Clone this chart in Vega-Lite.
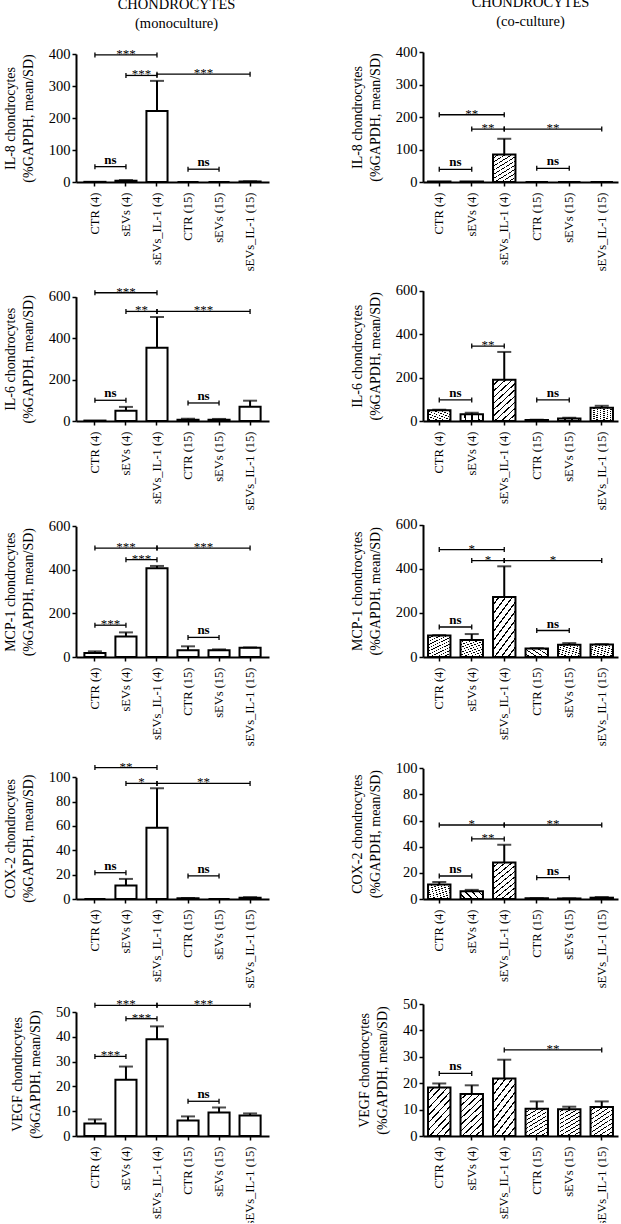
{
"$schema": "https://vega.github.io/schema/vega-lite/v6.json",
"padding": {"left": 3, "top": -5, "right": 2, "bottom": -2},
"params": [{"name": "G", "value": ["CTR (4)","sEVs (4)","sEVs_IL-1 (4)","CTR (15)","sEVs (15)","sEVs_IL-1 (15)"]}],
"config": {
 "font": "Liberation Serif",
 "view": {"stroke": null},
 "axis": {"grid": false, "labelColor": "black", "titleColor": "black", "domainColor": "black", "tickColor": "black", "labelFont": "Liberation Serif", "titleFont": "Liberation Serif"},
 "axisX": {"labelAngle": -90, "labelFontSize": 12.5, "domainWidth": 2, "tickWidth": 1.5, "tickSize": 4, "labelPadding": 6, "labelOverlap": false},
 "axisY": {"labelFontSize": 14.5, "labelOverlap": false, "domainWidth": 2, "tickWidth": 1.5, "tickSize": 4, "labelPadding": 2, "titleFontSize": 14, "titleFontWeight": "normal", "titleLineHeight": 18, "titlePadding": 13},
 "title": {"font": "Liberation Serif", "fontSize": 14.5, "fontWeight": "normal", "lineHeight": 18.5, "color": "black", "offset": 15}
},
"datasets": {
 "bars": [
  {"panel":"IL8_m","group":"CTR (4)","mean":0.5,"upper":0.5},
  {"panel":"IL8_m","group":"sEVs (4)","mean":4,"upper":6},
  {"panel":"IL8_m","group":"sEVs_IL-1 (4)","mean":222,"upper":316},
  {"panel":"IL8_m","group":"CTR (15)","mean":0,"upper":0},
  {"panel":"IL8_m","group":"sEVs (15)","mean":0,"upper":0},
  {"panel":"IL8_m","group":"sEVs_IL-1 (15)","mean":1.5,"upper":2},
  {"panel":"IL8_c","group":"CTR (4)","mean":1.5,"upper":1.5},
  {"panel":"IL8_c","group":"sEVs (4)","mean":1.5,"upper":1.5},
  {"panel":"IL8_c","group":"sEVs_IL-1 (4)","mean":85,"upper":133},
  {"panel":"IL8_c","group":"CTR (15)","mean":0,"upper":0},
  {"panel":"IL8_c","group":"sEVs (15)","mean":0,"upper":0},
  {"panel":"IL8_c","group":"sEVs_IL-1 (15)","mean":0,"upper":0},
  {"panel":"IL6_m","group":"CTR (4)","mean":2,"upper":2},
  {"panel":"IL6_m","group":"sEVs (4)","mean":50,"upper":68},
  {"panel":"IL6_m","group":"sEVs_IL-1 (4)","mean":354,"upper":502},
  {"panel":"IL6_m","group":"CTR (15)","mean":6,"upper":11},
  {"panel":"IL6_m","group":"sEVs (15)","mean":6,"upper":10},
  {"panel":"IL6_m","group":"sEVs_IL-1 (15)","mean":69,"upper":98},
  {"panel":"IL6_c","group":"CTR (4)","mean":49,"upper":52},
  {"panel":"IL6_c","group":"sEVs (4)","mean":31,"upper":38},
  {"panel":"IL6_c","group":"sEVs_IL-1 (4)","mean":190,"upper":318},
  {"panel":"IL6_c","group":"CTR (15)","mean":5,"upper":6},
  {"panel":"IL6_c","group":"sEVs (15)","mean":12,"upper":15},
  {"panel":"IL6_c","group":"sEVs_IL-1 (15)","mean":61,"upper":70},
  {"panel":"MCP1_m","group":"CTR (4)","mean":18,"upper":26},
  {"panel":"MCP1_m","group":"sEVs (4)","mean":94,"upper":113},
  {"panel":"MCP1_m","group":"sEVs_IL-1 (4)","mean":407,"upper":418},
  {"panel":"MCP1_m","group":"CTR (15)","mean":31,"upper":49},
  {"panel":"MCP1_m","group":"sEVs (15)","mean":31,"upper":35},
  {"panel":"MCP1_m","group":"sEVs_IL-1 (15)","mean":43,"upper":44},
  {"panel":"MCP1_c","group":"CTR (4)","mean":97,"upper":99},
  {"panel":"MCP1_c","group":"sEVs (4)","mean":77,"upper":104},
  {"panel":"MCP1_c","group":"sEVs_IL-1 (4)","mean":272,"upper":411},
  {"panel":"MCP1_c","group":"CTR (15)","mean":39,"upper":40},
  {"panel":"MCP1_c","group":"sEVs (15)","mean":56,"upper":63},
  {"panel":"MCP1_c","group":"sEVs_IL-1 (15)","mean":57,"upper":58},
  {"panel":"COX2_m","group":"CTR (4)","mean":0,"upper":0},
  {"panel":"COX2_m","group":"sEVs (4)","mean":11,"upper":16.5},
  {"panel":"COX2_m","group":"sEVs_IL-1 (4)","mean":58.6,"upper":91},
  {"panel":"COX2_m","group":"CTR (15)","mean":0.6,"upper":0.8},
  {"panel":"COX2_m","group":"sEVs (15)","mean":0,"upper":0},
  {"panel":"COX2_m","group":"sEVs_IL-1 (15)","mean":1,"upper":1.5},
  {"panel":"COX2_c","group":"CTR (4)","mean":11,"upper":13},
  {"panel":"COX2_c","group":"sEVs (4)","mean":5.9,"upper":7},
  {"panel":"COX2_c","group":"sEVs_IL-1 (4)","mean":28,"upper":41.5},
  {"panel":"COX2_c","group":"CTR (15)","mean":0.5,"upper":0.6},
  {"panel":"COX2_c","group":"sEVs (15)","mean":0.4,"upper":0.5},
  {"panel":"COX2_c","group":"sEVs_IL-1 (15)","mean":1,"upper":1.5},
  {"panel":"VEGF_m","group":"CTR (4)","mean":5,"upper":6.7},
  {"panel":"VEGF_m","group":"sEVs (4)","mean":22.7,"upper":28},
  {"panel":"VEGF_m","group":"sEVs_IL-1 (4)","mean":39,"upper":44.2},
  {"panel":"VEGF_m","group":"CTR (15)","mean":6.2,"upper":7.9},
  {"panel":"VEGF_m","group":"sEVs (15)","mean":9.5,"upper":11.5},
  {"panel":"VEGF_m","group":"sEVs_IL-1 (15)","mean":8.3,"upper":9.1},
  {"panel":"VEGF_c","group":"CTR (4)","mean":18.4,"upper":19.9},
  {"panel":"VEGF_c","group":"sEVs (4)","mean":15.9,"upper":19.2},
  {"panel":"VEGF_c","group":"sEVs_IL-1 (4)","mean":21.8,"upper":28.9},
  {"panel":"VEGF_c","group":"CTR (15)","mean":10.3,"upper":13.1},
  {"panel":"VEGF_c","group":"sEVs (15)","mean":10.1,"upper":11.1},
  {"panel":"VEGF_c","group":"sEVs_IL-1 (15)","mean":11,"upper":13.1}
 ],
 "sig": [
  {"panel":"IL8_m","from":"CTR (4)","to":"sEVs_IL-1 (4)","y":397,"label":"***"},
  {"panel":"IL8_m","from":"sEVs (4)","to":"sEVs_IL-1 (4)","y":333,"label":"***"},
  {"panel":"IL8_m","from":"sEVs_IL-1 (4)","to":"sEVs_IL-1 (15)","y":337,"label":"***"},
  {"panel":"IL8_m","from":"CTR (4)","to":"sEVs (4)","y":48,"label":"ns"},
  {"panel":"IL8_m","from":"CTR (15)","to":"sEVs (15)","y":40,"label":"ns"},
  {"panel":"IL8_c","from":"CTR (4)","to":"sEVs_IL-1 (4)","y":207,"label":"**"},
  {"panel":"IL8_c","from":"sEVs (4)","to":"sEVs_IL-1 (4)","y":163,"label":"**"},
  {"panel":"IL8_c","from":"sEVs_IL-1 (4)","to":"sEVs_IL-1 (15)","y":163,"label":"**"},
  {"panel":"IL8_c","from":"CTR (4)","to":"sEVs (4)","y":39,"label":"ns"},
  {"panel":"IL8_c","from":"CTR (15)","to":"sEVs (15)","y":42,"label":"ns"},
  {"panel":"IL6_m","from":"CTR (4)","to":"sEVs_IL-1 (4)","y":619,"label":"***"},
  {"panel":"IL6_m","from":"sEVs (4)","to":"sEVs_IL-1 (4)","y":529,"label":"**"},
  {"panel":"IL6_m","from":"sEVs_IL-1 (4)","to":"sEVs_IL-1 (15)","y":529,"label":"***"},
  {"panel":"IL6_m","from":"CTR (4)","to":"sEVs (4)","y":100,"label":"ns"},
  {"panel":"IL6_m","from":"CTR (15)","to":"sEVs (15)","y":87,"label":"ns"},
  {"panel":"IL6_c","from":"sEVs (4)","to":"sEVs_IL-1 (4)","y":345,"label":"**"},
  {"panel":"IL6_c","from":"CTR (4)","to":"sEVs (4)","y":97,"label":"ns"},
  {"panel":"IL6_c","from":"CTR (15)","to":"sEVs (15)","y":97,"label":"ns"},
  {"panel":"MCP1_m","from":"CTR (4)","to":"sEVs_IL-1 (4)","y":500,"label":"***"},
  {"panel":"MCP1_m","from":"sEVs (4)","to":"sEVs_IL-1 (4)","y":447,"label":"***"},
  {"panel":"MCP1_m","from":"sEVs_IL-1 (4)","to":"sEVs_IL-1 (15)","y":500,"label":"***"},
  {"panel":"MCP1_m","from":"CTR (4)","to":"sEVs (4)","y":146,"label":"***"},
  {"panel":"MCP1_m","from":"CTR (15)","to":"sEVs (15)","y":90,"label":"ns"},
  {"panel":"MCP1_c","from":"CTR (4)","to":"sEVs_IL-1 (4)","y":487,"label":"*"},
  {"panel":"MCP1_c","from":"sEVs (4)","to":"sEVs_IL-1 (4)","y":437,"label":"*"},
  {"panel":"MCP1_c","from":"sEVs_IL-1 (4)","to":"sEVs_IL-1 (15)","y":437,"label":"*"},
  {"panel":"MCP1_c","from":"CTR (4)","to":"sEVs (4)","y":136,"label":"ns"},
  {"panel":"MCP1_c","from":"CTR (15)","to":"sEVs (15)","y":120,"label":"ns"},
  {"panel":"COX2_m","from":"CTR (4)","to":"sEVs_IL-1 (4)","y":108,"label":"**"},
  {"panel":"COX2_m","from":"sEVs (4)","to":"sEVs_IL-1 (4)","y":95,"label":"*"},
  {"panel":"COX2_m","from":"sEVs_IL-1 (4)","to":"sEVs_IL-1 (15)","y":95,"label":"**"},
  {"panel":"COX2_m","from":"CTR (4)","to":"sEVs (4)","y":21.6,"label":"ns"},
  {"panel":"COX2_m","from":"CTR (15)","to":"sEVs (15)","y":19,"label":"ns"},
  {"panel":"COX2_c","from":"CTR (4)","to":"sEVs_IL-1 (4)","y":56.6,"label":"*"},
  {"panel":"COX2_c","from":"sEVs (4)","to":"sEVs_IL-1 (4)","y":46,"label":"**"},
  {"panel":"COX2_c","from":"sEVs_IL-1 (4)","to":"sEVs_IL-1 (15)","y":56.6,"label":"**"},
  {"panel":"COX2_c","from":"CTR (4)","to":"sEVs (4)","y":17.6,"label":"ns"},
  {"panel":"COX2_c","from":"CTR (15)","to":"sEVs (15)","y":16.3,"label":"ns"},
  {"panel":"VEGF_m","from":"CTR (4)","to":"sEVs_IL-1 (4)","y":52.7,"label":"***"},
  {"panel":"VEGF_m","from":"sEVs (4)","to":"sEVs_IL-1 (4)","y":47.3,"label":"***"},
  {"panel":"VEGF_m","from":"sEVs_IL-1 (4)","to":"sEVs_IL-1 (15)","y":52.7,"label":"***"},
  {"panel":"VEGF_m","from":"CTR (4)","to":"sEVs (4)","y":32.1,"label":"***"},
  {"panel":"VEGF_m","from":"CTR (15)","to":"sEVs (15)","y":14,"label":"ns"},
  {"panel":"VEGF_c","from":"CTR (4)","to":"sEVs (4)","y":23.7,"label":"ns"},
  {"panel":"VEGF_c","from":"sEVs_IL-1 (4)","to":"sEVs_IL-1 (15)","y":32.6,"label":"**"}
 ]
},
"columns": 2,
"spacing": {"row": 106, "column": 154},
"bounds": "flush",
"concat": [
{"width":193,"height":130,"title":{"text":["CHONDROCYTES","(monoculture)"],"frame":"group","dx":4},"layer":[
 {"data":{"name":"bars"},"transform":[{"filter":"datum.panel=='IL8_m'"}],"mark":{"type":"bar","width":{"band":0.68},"fill":"white","stroke":"black","strokeWidth":2},"encoding":{"x":{"field":"group","type":"nominal","scale":{"domain":["CTR (4)","sEVs (4)","sEVs_IL-1 (4)","CTR (15)","sEVs (15)","sEVs_IL-1 (15)"],"paddingInner":0,"paddingOuter":0.11},"axis":{"title":null}},"y":{"field":"mean","type":"quantitative","scale":{"domain":[0,400],"range":[130,2],"nice":false},"axis":{"title":["IL-8 chondrocytes","(%GAPDH, mean/SD)"],"values":[0,100,200,300,400],"tickCount":12,"labelOverlap":false}}}},
 {"data":{"name":"bars"},"transform":[{"filter":"datum.panel=='IL8_m' && datum.upper > datum.mean"}],"mark":{"type":"rule","stroke":"black","strokeWidth":2},"encoding":{"x":{"field":"group","type":"nominal"},"y":{"field":"mean","type":"quantitative"},"y2":{"field":"upper"}}},
 {"data":{"name":"bars"},"transform":[{"filter":"datum.panel=='IL8_m' && datum.upper > datum.mean"}],"mark":{"type":"tick","color":"black","thickness":2,"size":14},"encoding":{"x":{"field":"group","type":"nominal"},"y":{"field":"upper","type":"quantitative"}}},
 {"data":{"name":"sig"},"transform":[{"filter":"datum.panel=='IL8_m'"}],"mark":{"type":"rule","stroke":"black","strokeWidth":1.3},"encoding":{"x":{"field":"from","type":"nominal"},"x2":{"field":"to"},"y":{"field":"y","type":"quantitative"}}},
 {"data":{"name":"sig"},"transform":[{"filter":"datum.panel=='IL8_m'"},{"fold":["from","to"],"as":["end","grp"]}],"mark":{"type":"point","shape":"M0,-1L0,1","size":25,"stroke":"black","strokeWidth":1.3,"filled":false,"opacity":1},"encoding":{"x":{"field":"grp","type":"nominal"},"y":{"field":"y","type":"quantitative"}}},
 {"data":{"name":"sig"},"transform":[{"filter":"datum.panel=='IL8_m' && datum.label=='ns'"}],"mark":{"type":"text","baseline":"alphabetic","dy":-3,"fontSize":13,"fontWeight":"bold","color":"black"},"encoding":{"x":{"field":"from","type":"nominal","bandPosition":1},"y":{"field":"y","type":"quantitative"},"text":{"field":"label"}}},
 {"data":{"name":"sig"},"transform":[{"filter":"datum.panel=='IL8_m' && datum.label!='ns' && indexof(G,datum.to)-indexof(G,datum.from)==1"}],"mark":{"type":"text","baseline":"alphabetic","dy":3,"fontSize":13,"color":"black"},"encoding":{"x":{"field":"from","type":"nominal","bandPosition":1},"y":{"field":"y","type":"quantitative"},"text":{"field":"label"}}},
 {"data":{"name":"sig"},"transform":[{"filter":"datum.panel=='IL8_m' && datum.label!='ns' && indexof(G,datum.to)-indexof(G,datum.from)==2"}],"mark":{"type":"text","baseline":"alphabetic","dy":3,"fontSize":13,"color":"black"},"encoding":{"x":{"field":"from","type":"nominal","bandPosition":1.5},"y":{"field":"y","type":"quantitative"},"text":{"field":"label"}}},
 {"data":{"name":"sig"},"transform":[{"filter":"datum.panel=='IL8_m' && datum.label!='ns' && indexof(G,datum.to)-indexof(G,datum.from)==3"}],"mark":{"type":"text","baseline":"alphabetic","dy":3,"fontSize":13,"color":"black"},"encoding":{"x":{"field":"from","type":"nominal","bandPosition":2},"y":{"field":"y","type":"quantitative"},"text":{"field":"label"}}}
]},
{"width":195,"height":130,"title":{"text":["CHONDROCYTES","(co-culture)"],"frame":"group","dx":10},"layer":[
 {"data":{"name":"bars"},"transform":[{"filter":"datum.panel=='IL8_c'"}],"mark":{"type":"bar","width":{"band":0.69},"fill":{"gradient":"linear","x1":0,"y1":0,"x2":0.6,"y2":1.2,"stops":[{"offset":0,"color":"white"},{"offset":0.078,"color":"white"},{"offset":0.078,"color":"black"},{"offset":0.1,"color":"black"},{"offset":0.1,"color":"white"},{"offset":0.178,"color":"white"},{"offset":0.178,"color":"black"},{"offset":0.2,"color":"black"},{"offset":0.2,"color":"white"},{"offset":0.278,"color":"white"},{"offset":0.278,"color":"black"},{"offset":0.3,"color":"black"},{"offset":0.3,"color":"white"},{"offset":0.378,"color":"white"},{"offset":0.378,"color":"black"},{"offset":0.4,"color":"black"},{"offset":0.4,"color":"white"},{"offset":0.478,"color":"white"},{"offset":0.478,"color":"black"},{"offset":0.5,"color":"black"},{"offset":0.5,"color":"white"},{"offset":0.578,"color":"white"},{"offset":0.578,"color":"black"},{"offset":0.6,"color":"black"},{"offset":0.6,"color":"white"},{"offset":0.678,"color":"white"},{"offset":0.678,"color":"black"},{"offset":0.7,"color":"black"},{"offset":0.7,"color":"white"},{"offset":0.778,"color":"white"},{"offset":0.778,"color":"black"},{"offset":0.8,"color":"black"},{"offset":0.8,"color":"white"},{"offset":0.878,"color":"white"},{"offset":0.878,"color":"black"},{"offset":0.9,"color":"black"},{"offset":0.9,"color":"white"},{"offset":0.978,"color":"white"},{"offset":0.978,"color":"black"},{"offset":1,"color":"black"}]},"stroke":"black","strokeWidth":2},"encoding":{"x":{"field":"group","type":"nominal","scale":{"domain":["CTR (4)","sEVs (4)","sEVs_IL-1 (4)","CTR (15)","sEVs (15)","sEVs_IL-1 (15)"],"paddingInner":0,"paddingOuter":0},"axis":{"title":null}},"y":{"field":"mean","type":"quantitative","scale":{"domain":[0,400],"range":[130,0],"nice":false},"axis":{"title":["IL-8 chondrocytes","(%GAPDH, mean/SD)"],"values":[0,100,200,300,400],"tickCount":12,"labelOverlap":false}}}},
 {"data":{"name":"bars"},"transform":[{"filter":"datum.panel=='IL8_c' && datum.upper > datum.mean"}],"mark":{"type":"rule","stroke":"black","strokeWidth":2},"encoding":{"x":{"field":"group","type":"nominal"},"y":{"field":"mean","type":"quantitative"},"y2":{"field":"upper"}}},
 {"data":{"name":"bars"},"transform":[{"filter":"datum.panel=='IL8_c' && datum.upper > datum.mean"}],"mark":{"type":"tick","color":"black","thickness":2,"size":14},"encoding":{"x":{"field":"group","type":"nominal"},"y":{"field":"upper","type":"quantitative"}}},
 {"data":{"name":"sig"},"transform":[{"filter":"datum.panel=='IL8_c'"}],"mark":{"type":"rule","stroke":"black","strokeWidth":1.3},"encoding":{"x":{"field":"from","type":"nominal"},"x2":{"field":"to"},"y":{"field":"y","type":"quantitative"}}},
 {"data":{"name":"sig"},"transform":[{"filter":"datum.panel=='IL8_c'"},{"fold":["from","to"],"as":["end","grp"]}],"mark":{"type":"point","shape":"M0,-1L0,1","size":25,"stroke":"black","strokeWidth":1.3,"filled":false,"opacity":1},"encoding":{"x":{"field":"grp","type":"nominal"},"y":{"field":"y","type":"quantitative"}}},
 {"data":{"name":"sig"},"transform":[{"filter":"datum.panel=='IL8_c' && datum.label=='ns'"}],"mark":{"type":"text","baseline":"alphabetic","dy":-3,"fontSize":13,"fontWeight":"bold","color":"black"},"encoding":{"x":{"field":"from","type":"nominal","bandPosition":1},"y":{"field":"y","type":"quantitative"},"text":{"field":"label"}}},
 {"data":{"name":"sig"},"transform":[{"filter":"datum.panel=='IL8_c' && datum.label!='ns' && indexof(G,datum.to)-indexof(G,datum.from)==1"}],"mark":{"type":"text","baseline":"alphabetic","dy":3,"fontSize":13,"color":"black"},"encoding":{"x":{"field":"from","type":"nominal","bandPosition":1},"y":{"field":"y","type":"quantitative"},"text":{"field":"label"}}},
 {"data":{"name":"sig"},"transform":[{"filter":"datum.panel=='IL8_c' && datum.label!='ns' && indexof(G,datum.to)-indexof(G,datum.from)==2"}],"mark":{"type":"text","baseline":"alphabetic","dy":3,"fontSize":13,"color":"black"},"encoding":{"x":{"field":"from","type":"nominal","bandPosition":1.5},"y":{"field":"y","type":"quantitative"},"text":{"field":"label"}}},
 {"data":{"name":"sig"},"transform":[{"filter":"datum.panel=='IL8_c' && datum.label!='ns' && indexof(G,datum.to)-indexof(G,datum.from)==3"}],"mark":{"type":"text","baseline":"alphabetic","dy":3,"fontSize":13,"color":"black"},"encoding":{"x":{"field":"from","type":"nominal","bandPosition":2},"y":{"field":"y","type":"quantitative"},"text":{"field":"label"}}}
]},
{"width":193,"height":133,"layer":[
 {"data":{"name":"bars"},"transform":[{"filter":"datum.panel=='IL6_m'"}],"mark":{"type":"bar","width":{"band":0.68},"fill":"white","stroke":"black","strokeWidth":2},"encoding":{"x":{"field":"group","type":"nominal","scale":{"domain":["CTR (4)","sEVs (4)","sEVs_IL-1 (4)","CTR (15)","sEVs (15)","sEVs_IL-1 (15)"],"paddingInner":0,"paddingOuter":0.11},"axis":{"title":null}},"y":{"field":"mean","type":"quantitative","scale":{"domain":[0,600],"range":[133,8.7],"nice":false},"axis":{"title":["IL-6 chondrocytes","(%GAPDH, mean/SD)"],"values":[0,200,400,600],"tickCount":12,"labelOverlap":false}}}},
 {"data":{"name":"bars"},"transform":[{"filter":"datum.panel=='IL6_m' && datum.upper > datum.mean"}],"mark":{"type":"rule","stroke":"black","strokeWidth":2},"encoding":{"x":{"field":"group","type":"nominal"},"y":{"field":"mean","type":"quantitative"},"y2":{"field":"upper"}}},
 {"data":{"name":"bars"},"transform":[{"filter":"datum.panel=='IL6_m' && datum.upper > datum.mean"}],"mark":{"type":"tick","color":"black","thickness":2,"size":14},"encoding":{"x":{"field":"group","type":"nominal"},"y":{"field":"upper","type":"quantitative"}}},
 {"data":{"name":"sig"},"transform":[{"filter":"datum.panel=='IL6_m'"}],"mark":{"type":"rule","stroke":"black","strokeWidth":1.3},"encoding":{"x":{"field":"from","type":"nominal"},"x2":{"field":"to"},"y":{"field":"y","type":"quantitative"}}},
 {"data":{"name":"sig"},"transform":[{"filter":"datum.panel=='IL6_m'"},{"fold":["from","to"],"as":["end","grp"]}],"mark":{"type":"point","shape":"M0,-1L0,1","size":25,"stroke":"black","strokeWidth":1.3,"filled":false,"opacity":1},"encoding":{"x":{"field":"grp","type":"nominal"},"y":{"field":"y","type":"quantitative"}}},
 {"data":{"name":"sig"},"transform":[{"filter":"datum.panel=='IL6_m' && datum.label=='ns'"}],"mark":{"type":"text","baseline":"alphabetic","dy":-3,"fontSize":13,"fontWeight":"bold","color":"black"},"encoding":{"x":{"field":"from","type":"nominal","bandPosition":1},"y":{"field":"y","type":"quantitative"},"text":{"field":"label"}}},
 {"data":{"name":"sig"},"transform":[{"filter":"datum.panel=='IL6_m' && datum.label!='ns' && indexof(G,datum.to)-indexof(G,datum.from)==1"}],"mark":{"type":"text","baseline":"alphabetic","dy":3,"fontSize":13,"color":"black"},"encoding":{"x":{"field":"from","type":"nominal","bandPosition":1},"y":{"field":"y","type":"quantitative"},"text":{"field":"label"}}},
 {"data":{"name":"sig"},"transform":[{"filter":"datum.panel=='IL6_m' && datum.label!='ns' && indexof(G,datum.to)-indexof(G,datum.from)==2"}],"mark":{"type":"text","baseline":"alphabetic","dy":3,"fontSize":13,"color":"black"},"encoding":{"x":{"field":"from","type":"nominal","bandPosition":1.5},"y":{"field":"y","type":"quantitative"},"text":{"field":"label"}}},
 {"data":{"name":"sig"},"transform":[{"filter":"datum.panel=='IL6_m' && datum.label!='ns' && indexof(G,datum.to)-indexof(G,datum.from)==3"}],"mark":{"type":"text","baseline":"alphabetic","dy":3,"fontSize":13,"color":"black"},"encoding":{"x":{"field":"from","type":"nominal","bandPosition":2},"y":{"field":"y","type":"quantitative"},"text":{"field":"label"}}}
]},
{"width":195,"height":133,"layer":[
 {"data":{"name":"bars"},"transform":[{"filter":"datum.panel=='IL6_c'"}],"mark":{"type":"bar","width":{"band":0.69},"fill":{"gradient":"linear","x1":0,"y1":0,"x2":0.6,"y2":1.2,"stops":[{"offset":0,"color":"white"},{"offset":0.078,"color":"white"},{"offset":0.078,"color":"black"},{"offset":0.1,"color":"black"},{"offset":0.1,"color":"white"},{"offset":0.178,"color":"white"},{"offset":0.178,"color":"black"},{"offset":0.2,"color":"black"},{"offset":0.2,"color":"white"},{"offset":0.278,"color":"white"},{"offset":0.278,"color":"black"},{"offset":0.3,"color":"black"},{"offset":0.3,"color":"white"},{"offset":0.378,"color":"white"},{"offset":0.378,"color":"black"},{"offset":0.4,"color":"black"},{"offset":0.4,"color":"white"},{"offset":0.478,"color":"white"},{"offset":0.478,"color":"black"},{"offset":0.5,"color":"black"},{"offset":0.5,"color":"white"},{"offset":0.578,"color":"white"},{"offset":0.578,"color":"black"},{"offset":0.6,"color":"black"},{"offset":0.6,"color":"white"},{"offset":0.678,"color":"white"},{"offset":0.678,"color":"black"},{"offset":0.7,"color":"black"},{"offset":0.7,"color":"white"},{"offset":0.778,"color":"white"},{"offset":0.778,"color":"black"},{"offset":0.8,"color":"black"},{"offset":0.8,"color":"white"},{"offset":0.878,"color":"white"},{"offset":0.878,"color":"black"},{"offset":0.9,"color":"black"},{"offset":0.9,"color":"white"},{"offset":0.978,"color":"white"},{"offset":0.978,"color":"black"},{"offset":1,"color":"black"}]},"stroke":"black","strokeWidth":2},"encoding":{"x":{"field":"group","type":"nominal","scale":{"domain":["CTR (4)","sEVs (4)","sEVs_IL-1 (4)","CTR (15)","sEVs (15)","sEVs_IL-1 (15)"],"paddingInner":0,"paddingOuter":0},"axis":{"title":null}},"y":{"field":"mean","type":"quantitative","scale":{"domain":[0,600],"range":[133,2.7],"nice":false},"axis":{"title":["IL-6 chondrocytes","(%GAPDH, mean/SD)"],"values":[0,200,400,600],"tickCount":12,"labelOverlap":false}}}},
 {"data":{"name":"bars"},"transform":[{"filter":"datum.panel=='IL6_c' && datum.upper > datum.mean"}],"mark":{"type":"rule","stroke":"black","strokeWidth":2},"encoding":{"x":{"field":"group","type":"nominal"},"y":{"field":"mean","type":"quantitative"},"y2":{"field":"upper"}}},
 {"data":{"name":"bars"},"transform":[{"filter":"datum.panel=='IL6_c' && datum.upper > datum.mean"}],"mark":{"type":"tick","color":"black","thickness":2,"size":14},"encoding":{"x":{"field":"group","type":"nominal"},"y":{"field":"upper","type":"quantitative"}}},
 {"data":{"name":"sig"},"transform":[{"filter":"datum.panel=='IL6_c'"}],"mark":{"type":"rule","stroke":"black","strokeWidth":1.3},"encoding":{"x":{"field":"from","type":"nominal"},"x2":{"field":"to"},"y":{"field":"y","type":"quantitative"}}},
 {"data":{"name":"sig"},"transform":[{"filter":"datum.panel=='IL6_c'"},{"fold":["from","to"],"as":["end","grp"]}],"mark":{"type":"point","shape":"M0,-1L0,1","size":25,"stroke":"black","strokeWidth":1.3,"filled":false,"opacity":1},"encoding":{"x":{"field":"grp","type":"nominal"},"y":{"field":"y","type":"quantitative"}}},
 {"data":{"name":"sig"},"transform":[{"filter":"datum.panel=='IL6_c' && datum.label=='ns'"}],"mark":{"type":"text","baseline":"alphabetic","dy":-3,"fontSize":13,"fontWeight":"bold","color":"black"},"encoding":{"x":{"field":"from","type":"nominal","bandPosition":1},"y":{"field":"y","type":"quantitative"},"text":{"field":"label"}}},
 {"data":{"name":"sig"},"transform":[{"filter":"datum.panel=='IL6_c' && datum.label!='ns' && indexof(G,datum.to)-indexof(G,datum.from)==1"}],"mark":{"type":"text","baseline":"alphabetic","dy":3,"fontSize":13,"color":"black"},"encoding":{"x":{"field":"from","type":"nominal","bandPosition":1},"y":{"field":"y","type":"quantitative"},"text":{"field":"label"}}},
 {"data":{"name":"sig"},"transform":[{"filter":"datum.panel=='IL6_c' && datum.label!='ns' && indexof(G,datum.to)-indexof(G,datum.from)==2"}],"mark":{"type":"text","baseline":"alphabetic","dy":3,"fontSize":13,"color":"black"},"encoding":{"x":{"field":"from","type":"nominal","bandPosition":1.5},"y":{"field":"y","type":"quantitative"},"text":{"field":"label"}}},
 {"data":{"name":"sig"},"transform":[{"filter":"datum.panel=='IL6_c' && datum.label!='ns' && indexof(G,datum.to)-indexof(G,datum.from)==3"}],"mark":{"type":"text","baseline":"alphabetic","dy":3,"fontSize":13,"color":"black"},"encoding":{"x":{"field":"from","type":"nominal","bandPosition":2},"y":{"field":"y","type":"quantitative"},"text":{"field":"label"}}}
]},
{"width":193,"height":130,"layer":[
 {"data":{"name":"bars"},"transform":[{"filter":"datum.panel=='MCP1_m'"}],"mark":{"type":"bar","width":{"band":0.68},"fill":"white","stroke":"black","strokeWidth":2},"encoding":{"x":{"field":"group","type":"nominal","scale":{"domain":["CTR (4)","sEVs (4)","sEVs_IL-1 (4)","CTR (15)","sEVs (15)","sEVs_IL-1 (15)"],"paddingInner":0,"paddingOuter":0.11},"axis":{"title":null}},"y":{"field":"mean","type":"quantitative","scale":{"domain":[0,600],"range":[130,-0.7],"nice":false},"axis":{"title":["MCP-1 chondrocytes","(%GAPDH, mean/SD)"],"values":[0,200,400,600],"tickCount":12,"labelOverlap":false}}}},
 {"data":{"name":"bars"},"transform":[{"filter":"datum.panel=='MCP1_m' && datum.upper > datum.mean"}],"mark":{"type":"rule","stroke":"black","strokeWidth":2},"encoding":{"x":{"field":"group","type":"nominal"},"y":{"field":"mean","type":"quantitative"},"y2":{"field":"upper"}}},
 {"data":{"name":"bars"},"transform":[{"filter":"datum.panel=='MCP1_m' && datum.upper > datum.mean"}],"mark":{"type":"tick","color":"black","thickness":2,"size":14},"encoding":{"x":{"field":"group","type":"nominal"},"y":{"field":"upper","type":"quantitative"}}},
 {"data":{"name":"sig"},"transform":[{"filter":"datum.panel=='MCP1_m'"}],"mark":{"type":"rule","stroke":"black","strokeWidth":1.3},"encoding":{"x":{"field":"from","type":"nominal"},"x2":{"field":"to"},"y":{"field":"y","type":"quantitative"}}},
 {"data":{"name":"sig"},"transform":[{"filter":"datum.panel=='MCP1_m'"},{"fold":["from","to"],"as":["end","grp"]}],"mark":{"type":"point","shape":"M0,-1L0,1","size":25,"stroke":"black","strokeWidth":1.3,"filled":false,"opacity":1},"encoding":{"x":{"field":"grp","type":"nominal"},"y":{"field":"y","type":"quantitative"}}},
 {"data":{"name":"sig"},"transform":[{"filter":"datum.panel=='MCP1_m' && datum.label=='ns'"}],"mark":{"type":"text","baseline":"alphabetic","dy":-3,"fontSize":13,"fontWeight":"bold","color":"black"},"encoding":{"x":{"field":"from","type":"nominal","bandPosition":1},"y":{"field":"y","type":"quantitative"},"text":{"field":"label"}}},
 {"data":{"name":"sig"},"transform":[{"filter":"datum.panel=='MCP1_m' && datum.label!='ns' && indexof(G,datum.to)-indexof(G,datum.from)==1"}],"mark":{"type":"text","baseline":"alphabetic","dy":3,"fontSize":13,"color":"black"},"encoding":{"x":{"field":"from","type":"nominal","bandPosition":1},"y":{"field":"y","type":"quantitative"},"text":{"field":"label"}}},
 {"data":{"name":"sig"},"transform":[{"filter":"datum.panel=='MCP1_m' && datum.label!='ns' && indexof(G,datum.to)-indexof(G,datum.from)==2"}],"mark":{"type":"text","baseline":"alphabetic","dy":3,"fontSize":13,"color":"black"},"encoding":{"x":{"field":"from","type":"nominal","bandPosition":1.5},"y":{"field":"y","type":"quantitative"},"text":{"field":"label"}}},
 {"data":{"name":"sig"},"transform":[{"filter":"datum.panel=='MCP1_m' && datum.label!='ns' && indexof(G,datum.to)-indexof(G,datum.from)==3"}],"mark":{"type":"text","baseline":"alphabetic","dy":3,"fontSize":13,"color":"black"},"encoding":{"x":{"field":"from","type":"nominal","bandPosition":2},"y":{"field":"y","type":"quantitative"},"text":{"field":"label"}}}
]},
{"width":195,"height":130,"layer":[
 {"data":{"name":"bars"},"transform":[{"filter":"datum.panel=='MCP1_c'"}],"mark":{"type":"bar","width":{"band":0.69},"fill":{"gradient":"linear","x1":0,"y1":0,"x2":0.6,"y2":1.2,"stops":[{"offset":0,"color":"white"},{"offset":0.078,"color":"white"},{"offset":0.078,"color":"black"},{"offset":0.1,"color":"black"},{"offset":0.1,"color":"white"},{"offset":0.178,"color":"white"},{"offset":0.178,"color":"black"},{"offset":0.2,"color":"black"},{"offset":0.2,"color":"white"},{"offset":0.278,"color":"white"},{"offset":0.278,"color":"black"},{"offset":0.3,"color":"black"},{"offset":0.3,"color":"white"},{"offset":0.378,"color":"white"},{"offset":0.378,"color":"black"},{"offset":0.4,"color":"black"},{"offset":0.4,"color":"white"},{"offset":0.478,"color":"white"},{"offset":0.478,"color":"black"},{"offset":0.5,"color":"black"},{"offset":0.5,"color":"white"},{"offset":0.578,"color":"white"},{"offset":0.578,"color":"black"},{"offset":0.6,"color":"black"},{"offset":0.6,"color":"white"},{"offset":0.678,"color":"white"},{"offset":0.678,"color":"black"},{"offset":0.7,"color":"black"},{"offset":0.7,"color":"white"},{"offset":0.778,"color":"white"},{"offset":0.778,"color":"black"},{"offset":0.8,"color":"black"},{"offset":0.8,"color":"white"},{"offset":0.878,"color":"white"},{"offset":0.878,"color":"black"},{"offset":0.9,"color":"black"},{"offset":0.9,"color":"white"},{"offset":0.978,"color":"white"},{"offset":0.978,"color":"black"},{"offset":1,"color":"black"}]},"stroke":"black","strokeWidth":2},"encoding":{"x":{"field":"group","type":"nominal","scale":{"domain":["CTR (4)","sEVs (4)","sEVs_IL-1 (4)","CTR (15)","sEVs (15)","sEVs_IL-1 (15)"],"paddingInner":0,"paddingOuter":0},"axis":{"title":null}},"y":{"field":"mean","type":"quantitative","scale":{"domain":[0,600],"range":[130,-2.4],"nice":false},"axis":{"title":["MCP-1 chondrocytes","(%GAPDH, mean/SD)"],"values":[0,200,400,600],"tickCount":12,"labelOverlap":false}}}},
 {"data":{"name":"bars"},"transform":[{"filter":"datum.panel=='MCP1_c' && datum.upper > datum.mean"}],"mark":{"type":"rule","stroke":"black","strokeWidth":2},"encoding":{"x":{"field":"group","type":"nominal"},"y":{"field":"mean","type":"quantitative"},"y2":{"field":"upper"}}},
 {"data":{"name":"bars"},"transform":[{"filter":"datum.panel=='MCP1_c' && datum.upper > datum.mean"}],"mark":{"type":"tick","color":"black","thickness":2,"size":14},"encoding":{"x":{"field":"group","type":"nominal"},"y":{"field":"upper","type":"quantitative"}}},
 {"data":{"name":"sig"},"transform":[{"filter":"datum.panel=='MCP1_c'"}],"mark":{"type":"rule","stroke":"black","strokeWidth":1.3},"encoding":{"x":{"field":"from","type":"nominal"},"x2":{"field":"to"},"y":{"field":"y","type":"quantitative"}}},
 {"data":{"name":"sig"},"transform":[{"filter":"datum.panel=='MCP1_c'"},{"fold":["from","to"],"as":["end","grp"]}],"mark":{"type":"point","shape":"M0,-1L0,1","size":25,"stroke":"black","strokeWidth":1.3,"filled":false,"opacity":1},"encoding":{"x":{"field":"grp","type":"nominal"},"y":{"field":"y","type":"quantitative"}}},
 {"data":{"name":"sig"},"transform":[{"filter":"datum.panel=='MCP1_c' && datum.label=='ns'"}],"mark":{"type":"text","baseline":"alphabetic","dy":-3,"fontSize":13,"fontWeight":"bold","color":"black"},"encoding":{"x":{"field":"from","type":"nominal","bandPosition":1},"y":{"field":"y","type":"quantitative"},"text":{"field":"label"}}},
 {"data":{"name":"sig"},"transform":[{"filter":"datum.panel=='MCP1_c' && datum.label!='ns' && indexof(G,datum.to)-indexof(G,datum.from)==1"}],"mark":{"type":"text","baseline":"alphabetic","dy":3,"fontSize":13,"color":"black"},"encoding":{"x":{"field":"from","type":"nominal","bandPosition":1},"y":{"field":"y","type":"quantitative"},"text":{"field":"label"}}},
 {"data":{"name":"sig"},"transform":[{"filter":"datum.panel=='MCP1_c' && datum.label!='ns' && indexof(G,datum.to)-indexof(G,datum.from)==2"}],"mark":{"type":"text","baseline":"alphabetic","dy":3,"fontSize":13,"color":"black"},"encoding":{"x":{"field":"from","type":"nominal","bandPosition":1.5},"y":{"field":"y","type":"quantitative"},"text":{"field":"label"}}},
 {"data":{"name":"sig"},"transform":[{"filter":"datum.panel=='MCP1_c' && datum.label!='ns' && indexof(G,datum.to)-indexof(G,datum.from)==3"}],"mark":{"type":"text","baseline":"alphabetic","dy":3,"fontSize":13,"color":"black"},"encoding":{"x":{"field":"from","type":"nominal","bandPosition":2},"y":{"field":"y","type":"quantitative"},"text":{"field":"label"}}}
]},
{"width":193,"height":136,"layer":[
 {"data":{"name":"bars"},"transform":[{"filter":"datum.panel=='COX2_m'"}],"mark":{"type":"bar","width":{"band":0.68},"fill":"white","stroke":"black","strokeWidth":2},"encoding":{"x":{"field":"group","type":"nominal","scale":{"domain":["CTR (4)","sEVs (4)","sEVs_IL-1 (4)","CTR (15)","sEVs (15)","sEVs_IL-1 (15)"],"paddingInner":0,"paddingOuter":0.11},"axis":{"title":null}},"y":{"field":"mean","type":"quantitative","scale":{"domain":[0,100],"range":[136,14.3],"nice":false},"axis":{"title":["COX-2 chondrocytes","(%GAPDH, mean/SD)"],"values":[0,20,40,60,80,100],"tickCount":12,"labelOverlap":false}}}},
 {"data":{"name":"bars"},"transform":[{"filter":"datum.panel=='COX2_m' && datum.upper > datum.mean"}],"mark":{"type":"rule","stroke":"black","strokeWidth":2},"encoding":{"x":{"field":"group","type":"nominal"},"y":{"field":"mean","type":"quantitative"},"y2":{"field":"upper"}}},
 {"data":{"name":"bars"},"transform":[{"filter":"datum.panel=='COX2_m' && datum.upper > datum.mean"}],"mark":{"type":"tick","color":"black","thickness":2,"size":14},"encoding":{"x":{"field":"group","type":"nominal"},"y":{"field":"upper","type":"quantitative"}}},
 {"data":{"name":"sig"},"transform":[{"filter":"datum.panel=='COX2_m'"}],"mark":{"type":"rule","stroke":"black","strokeWidth":1.3},"encoding":{"x":{"field":"from","type":"nominal"},"x2":{"field":"to"},"y":{"field":"y","type":"quantitative"}}},
 {"data":{"name":"sig"},"transform":[{"filter":"datum.panel=='COX2_m'"},{"fold":["from","to"],"as":["end","grp"]}],"mark":{"type":"point","shape":"M0,-1L0,1","size":25,"stroke":"black","strokeWidth":1.3,"filled":false,"opacity":1},"encoding":{"x":{"field":"grp","type":"nominal"},"y":{"field":"y","type":"quantitative"}}},
 {"data":{"name":"sig"},"transform":[{"filter":"datum.panel=='COX2_m' && datum.label=='ns'"}],"mark":{"type":"text","baseline":"alphabetic","dy":-3,"fontSize":13,"fontWeight":"bold","color":"black"},"encoding":{"x":{"field":"from","type":"nominal","bandPosition":1},"y":{"field":"y","type":"quantitative"},"text":{"field":"label"}}},
 {"data":{"name":"sig"},"transform":[{"filter":"datum.panel=='COX2_m' && datum.label!='ns' && indexof(G,datum.to)-indexof(G,datum.from)==1"}],"mark":{"type":"text","baseline":"alphabetic","dy":3,"fontSize":13,"color":"black"},"encoding":{"x":{"field":"from","type":"nominal","bandPosition":1},"y":{"field":"y","type":"quantitative"},"text":{"field":"label"}}},
 {"data":{"name":"sig"},"transform":[{"filter":"datum.panel=='COX2_m' && datum.label!='ns' && indexof(G,datum.to)-indexof(G,datum.from)==2"}],"mark":{"type":"text","baseline":"alphabetic","dy":3,"fontSize":13,"color":"black"},"encoding":{"x":{"field":"from","type":"nominal","bandPosition":1.5},"y":{"field":"y","type":"quantitative"},"text":{"field":"label"}}},
 {"data":{"name":"sig"},"transform":[{"filter":"datum.panel=='COX2_m' && datum.label!='ns' && indexof(G,datum.to)-indexof(G,datum.from)==3"}],"mark":{"type":"text","baseline":"alphabetic","dy":3,"fontSize":13,"color":"black"},"encoding":{"x":{"field":"from","type":"nominal","bandPosition":2},"y":{"field":"y","type":"quantitative"},"text":{"field":"label"}}}
]},
{"width":195,"height":136,"layer":[
 {"data":{"name":"bars"},"transform":[{"filter":"datum.panel=='COX2_c'"}],"mark":{"type":"bar","width":{"band":0.69},"fill":{"gradient":"linear","x1":0,"y1":0,"x2":0.6,"y2":1.2,"stops":[{"offset":0,"color":"white"},{"offset":0.078,"color":"white"},{"offset":0.078,"color":"black"},{"offset":0.1,"color":"black"},{"offset":0.1,"color":"white"},{"offset":0.178,"color":"white"},{"offset":0.178,"color":"black"},{"offset":0.2,"color":"black"},{"offset":0.2,"color":"white"},{"offset":0.278,"color":"white"},{"offset":0.278,"color":"black"},{"offset":0.3,"color":"black"},{"offset":0.3,"color":"white"},{"offset":0.378,"color":"white"},{"offset":0.378,"color":"black"},{"offset":0.4,"color":"black"},{"offset":0.4,"color":"white"},{"offset":0.478,"color":"white"},{"offset":0.478,"color":"black"},{"offset":0.5,"color":"black"},{"offset":0.5,"color":"white"},{"offset":0.578,"color":"white"},{"offset":0.578,"color":"black"},{"offset":0.6,"color":"black"},{"offset":0.6,"color":"white"},{"offset":0.678,"color":"white"},{"offset":0.678,"color":"black"},{"offset":0.7,"color":"black"},{"offset":0.7,"color":"white"},{"offset":0.778,"color":"white"},{"offset":0.778,"color":"black"},{"offset":0.8,"color":"black"},{"offset":0.8,"color":"white"},{"offset":0.878,"color":"white"},{"offset":0.878,"color":"black"},{"offset":0.9,"color":"black"},{"offset":0.9,"color":"white"},{"offset":0.978,"color":"white"},{"offset":0.978,"color":"black"},{"offset":1,"color":"black"}]},"stroke":"black","strokeWidth":2},"encoding":{"x":{"field":"group","type":"nominal","scale":{"domain":["CTR (4)","sEVs (4)","sEVs_IL-1 (4)","CTR (15)","sEVs (15)","sEVs_IL-1 (15)"],"paddingInner":0,"paddingOuter":0},"axis":{"title":null}},"y":{"field":"mean","type":"quantitative","scale":{"domain":[0,100],"range":[136,5.3],"nice":false},"axis":{"title":["COX-2 chondrocytes","(%GAPDH, mean/SD)"],"values":[0,20,40,60,80,100],"tickCount":12,"labelOverlap":false}}}},
 {"data":{"name":"bars"},"transform":[{"filter":"datum.panel=='COX2_c' && datum.upper > datum.mean"}],"mark":{"type":"rule","stroke":"black","strokeWidth":2},"encoding":{"x":{"field":"group","type":"nominal"},"y":{"field":"mean","type":"quantitative"},"y2":{"field":"upper"}}},
 {"data":{"name":"bars"},"transform":[{"filter":"datum.panel=='COX2_c' && datum.upper > datum.mean"}],"mark":{"type":"tick","color":"black","thickness":2,"size":14},"encoding":{"x":{"field":"group","type":"nominal"},"y":{"field":"upper","type":"quantitative"}}},
 {"data":{"name":"sig"},"transform":[{"filter":"datum.panel=='COX2_c'"}],"mark":{"type":"rule","stroke":"black","strokeWidth":1.3},"encoding":{"x":{"field":"from","type":"nominal"},"x2":{"field":"to"},"y":{"field":"y","type":"quantitative"}}},
 {"data":{"name":"sig"},"transform":[{"filter":"datum.panel=='COX2_c'"},{"fold":["from","to"],"as":["end","grp"]}],"mark":{"type":"point","shape":"M0,-1L0,1","size":25,"stroke":"black","strokeWidth":1.3,"filled":false,"opacity":1},"encoding":{"x":{"field":"grp","type":"nominal"},"y":{"field":"y","type":"quantitative"}}},
 {"data":{"name":"sig"},"transform":[{"filter":"datum.panel=='COX2_c' && datum.label=='ns'"}],"mark":{"type":"text","baseline":"alphabetic","dy":-3,"fontSize":13,"fontWeight":"bold","color":"black"},"encoding":{"x":{"field":"from","type":"nominal","bandPosition":1},"y":{"field":"y","type":"quantitative"},"text":{"field":"label"}}},
 {"data":{"name":"sig"},"transform":[{"filter":"datum.panel=='COX2_c' && datum.label!='ns' && indexof(G,datum.to)-indexof(G,datum.from)==1"}],"mark":{"type":"text","baseline":"alphabetic","dy":3,"fontSize":13,"color":"black"},"encoding":{"x":{"field":"from","type":"nominal","bandPosition":1},"y":{"field":"y","type":"quantitative"},"text":{"field":"label"}}},
 {"data":{"name":"sig"},"transform":[{"filter":"datum.panel=='COX2_c' && datum.label!='ns' && indexof(G,datum.to)-indexof(G,datum.from)==2"}],"mark":{"type":"text","baseline":"alphabetic","dy":3,"fontSize":13,"color":"black"},"encoding":{"x":{"field":"from","type":"nominal","bandPosition":1.5},"y":{"field":"y","type":"quantitative"},"text":{"field":"label"}}},
 {"data":{"name":"sig"},"transform":[{"filter":"datum.panel=='COX2_c' && datum.label!='ns' && indexof(G,datum.to)-indexof(G,datum.from)==3"}],"mark":{"type":"text","baseline":"alphabetic","dy":3,"fontSize":13,"color":"black"},"encoding":{"x":{"field":"from","type":"nominal","bandPosition":2},"y":{"field":"y","type":"quantitative"},"text":{"field":"label"}}}
]},
{"width":193,"height":131,"layer":[
 {"data":{"name":"bars"},"transform":[{"filter":"datum.panel=='VEGF_m'"}],"mark":{"type":"bar","width":{"band":0.68},"fill":"white","stroke":"black","strokeWidth":2},"encoding":{"x":{"field":"group","type":"nominal","scale":{"domain":["CTR (4)","sEVs (4)","sEVs_IL-1 (4)","CTR (15)","sEVs (15)","sEVs_IL-1 (15)"],"paddingInner":0,"paddingOuter":0.11},"axis":{"title":null}},"y":{"field":"mean","type":"quantitative","scale":{"domain":[0,50],"range":[131,7],"nice":false},"axis":{"title":["VEGF chondrocytes","(%GAPDH, mean/SD)"],"values":[0,10,20,30,40,50],"tickCount":12,"labelOverlap":false}}}},
 {"data":{"name":"bars"},"transform":[{"filter":"datum.panel=='VEGF_m' && datum.upper > datum.mean"}],"mark":{"type":"rule","stroke":"black","strokeWidth":2},"encoding":{"x":{"field":"group","type":"nominal"},"y":{"field":"mean","type":"quantitative"},"y2":{"field":"upper"}}},
 {"data":{"name":"bars"},"transform":[{"filter":"datum.panel=='VEGF_m' && datum.upper > datum.mean"}],"mark":{"type":"tick","color":"black","thickness":2,"size":14},"encoding":{"x":{"field":"group","type":"nominal"},"y":{"field":"upper","type":"quantitative"}}},
 {"data":{"name":"sig"},"transform":[{"filter":"datum.panel=='VEGF_m'"}],"mark":{"type":"rule","stroke":"black","strokeWidth":1.3},"encoding":{"x":{"field":"from","type":"nominal"},"x2":{"field":"to"},"y":{"field":"y","type":"quantitative"}}},
 {"data":{"name":"sig"},"transform":[{"filter":"datum.panel=='VEGF_m'"},{"fold":["from","to"],"as":["end","grp"]}],"mark":{"type":"point","shape":"M0,-1L0,1","size":25,"stroke":"black","strokeWidth":1.3,"filled":false,"opacity":1},"encoding":{"x":{"field":"grp","type":"nominal"},"y":{"field":"y","type":"quantitative"}}},
 {"data":{"name":"sig"},"transform":[{"filter":"datum.panel=='VEGF_m' && datum.label=='ns'"}],"mark":{"type":"text","baseline":"alphabetic","dy":-3,"fontSize":13,"fontWeight":"bold","color":"black"},"encoding":{"x":{"field":"from","type":"nominal","bandPosition":1},"y":{"field":"y","type":"quantitative"},"text":{"field":"label"}}},
 {"data":{"name":"sig"},"transform":[{"filter":"datum.panel=='VEGF_m' && datum.label!='ns' && indexof(G,datum.to)-indexof(G,datum.from)==1"}],"mark":{"type":"text","baseline":"alphabetic","dy":3,"fontSize":13,"color":"black"},"encoding":{"x":{"field":"from","type":"nominal","bandPosition":1},"y":{"field":"y","type":"quantitative"},"text":{"field":"label"}}},
 {"data":{"name":"sig"},"transform":[{"filter":"datum.panel=='VEGF_m' && datum.label!='ns' && indexof(G,datum.to)-indexof(G,datum.from)==2"}],"mark":{"type":"text","baseline":"alphabetic","dy":3,"fontSize":13,"color":"black"},"encoding":{"x":{"field":"from","type":"nominal","bandPosition":1.5},"y":{"field":"y","type":"quantitative"},"text":{"field":"label"}}},
 {"data":{"name":"sig"},"transform":[{"filter":"datum.panel=='VEGF_m' && datum.label!='ns' && indexof(G,datum.to)-indexof(G,datum.from)==3"}],"mark":{"type":"text","baseline":"alphabetic","dy":3,"fontSize":13,"color":"black"},"encoding":{"x":{"field":"from","type":"nominal","bandPosition":2},"y":{"field":"y","type":"quantitative"},"text":{"field":"label"}}}
]},
{"width":195,"height":131,"layer":[
 {"data":{"name":"bars"},"transform":[{"filter":"datum.panel=='VEGF_c'"}],"mark":{"type":"bar","width":{"band":0.69},"fill":{"gradient":"linear","x1":0,"y1":0,"x2":0.6,"y2":1.2,"stops":[{"offset":0,"color":"white"},{"offset":0.078,"color":"white"},{"offset":0.078,"color":"black"},{"offset":0.1,"color":"black"},{"offset":0.1,"color":"white"},{"offset":0.178,"color":"white"},{"offset":0.178,"color":"black"},{"offset":0.2,"color":"black"},{"offset":0.2,"color":"white"},{"offset":0.278,"color":"white"},{"offset":0.278,"color":"black"},{"offset":0.3,"color":"black"},{"offset":0.3,"color":"white"},{"offset":0.378,"color":"white"},{"offset":0.378,"color":"black"},{"offset":0.4,"color":"black"},{"offset":0.4,"color":"white"},{"offset":0.478,"color":"white"},{"offset":0.478,"color":"black"},{"offset":0.5,"color":"black"},{"offset":0.5,"color":"white"},{"offset":0.578,"color":"white"},{"offset":0.578,"color":"black"},{"offset":0.6,"color":"black"},{"offset":0.6,"color":"white"},{"offset":0.678,"color":"white"},{"offset":0.678,"color":"black"},{"offset":0.7,"color":"black"},{"offset":0.7,"color":"white"},{"offset":0.778,"color":"white"},{"offset":0.778,"color":"black"},{"offset":0.8,"color":"black"},{"offset":0.8,"color":"white"},{"offset":0.878,"color":"white"},{"offset":0.878,"color":"black"},{"offset":0.9,"color":"black"},{"offset":0.9,"color":"white"},{"offset":0.978,"color":"white"},{"offset":0.978,"color":"black"},{"offset":1,"color":"black"}]},"stroke":"black","strokeWidth":2},"encoding":{"x":{"field":"group","type":"nominal","scale":{"domain":["CTR (4)","sEVs (4)","sEVs_IL-1 (4)","CTR (15)","sEVs (15)","sEVs_IL-1 (15)"],"paddingInner":0,"paddingOuter":0},"axis":{"title":null}},"y":{"field":"mean","type":"quantitative","scale":{"domain":[0,50],"range":[131,-1],"nice":false},"axis":{"title":["VEGF chondrocytes","(%GAPDH, mean/SD)"],"values":[0,10,20,30,40,50],"tickCount":12,"labelOverlap":false}}}},
 {"data":{"name":"bars"},"transform":[{"filter":"datum.panel=='VEGF_c' && datum.upper > datum.mean"}],"mark":{"type":"rule","stroke":"black","strokeWidth":2},"encoding":{"x":{"field":"group","type":"nominal"},"y":{"field":"mean","type":"quantitative"},"y2":{"field":"upper"}}},
 {"data":{"name":"bars"},"transform":[{"filter":"datum.panel=='VEGF_c' && datum.upper > datum.mean"}],"mark":{"type":"tick","color":"black","thickness":2,"size":14},"encoding":{"x":{"field":"group","type":"nominal"},"y":{"field":"upper","type":"quantitative"}}},
 {"data":{"name":"sig"},"transform":[{"filter":"datum.panel=='VEGF_c'"}],"mark":{"type":"rule","stroke":"black","strokeWidth":1.3},"encoding":{"x":{"field":"from","type":"nominal"},"x2":{"field":"to"},"y":{"field":"y","type":"quantitative"}}},
 {"data":{"name":"sig"},"transform":[{"filter":"datum.panel=='VEGF_c'"},{"fold":["from","to"],"as":["end","grp"]}],"mark":{"type":"point","shape":"M0,-1L0,1","size":25,"stroke":"black","strokeWidth":1.3,"filled":false,"opacity":1},"encoding":{"x":{"field":"grp","type":"nominal"},"y":{"field":"y","type":"quantitative"}}},
 {"data":{"name":"sig"},"transform":[{"filter":"datum.panel=='VEGF_c' && datum.label=='ns'"}],"mark":{"type":"text","baseline":"alphabetic","dy":-3,"fontSize":13,"fontWeight":"bold","color":"black"},"encoding":{"x":{"field":"from","type":"nominal","bandPosition":1},"y":{"field":"y","type":"quantitative"},"text":{"field":"label"}}},
 {"data":{"name":"sig"},"transform":[{"filter":"datum.panel=='VEGF_c' && datum.label!='ns' && indexof(G,datum.to)-indexof(G,datum.from)==1"}],"mark":{"type":"text","baseline":"alphabetic","dy":3,"fontSize":13,"color":"black"},"encoding":{"x":{"field":"from","type":"nominal","bandPosition":1},"y":{"field":"y","type":"quantitative"},"text":{"field":"label"}}},
 {"data":{"name":"sig"},"transform":[{"filter":"datum.panel=='VEGF_c' && datum.label!='ns' && indexof(G,datum.to)-indexof(G,datum.from)==2"}],"mark":{"type":"text","baseline":"alphabetic","dy":3,"fontSize":13,"color":"black"},"encoding":{"x":{"field":"from","type":"nominal","bandPosition":1.5},"y":{"field":"y","type":"quantitative"},"text":{"field":"label"}}},
 {"data":{"name":"sig"},"transform":[{"filter":"datum.panel=='VEGF_c' && datum.label!='ns' && indexof(G,datum.to)-indexof(G,datum.from)==3"}],"mark":{"type":"text","baseline":"alphabetic","dy":3,"fontSize":13,"color":"black"},"encoding":{"x":{"field":"from","type":"nominal","bandPosition":2},"y":{"field":"y","type":"quantitative"},"text":{"field":"label"}}}
]}
]
}
